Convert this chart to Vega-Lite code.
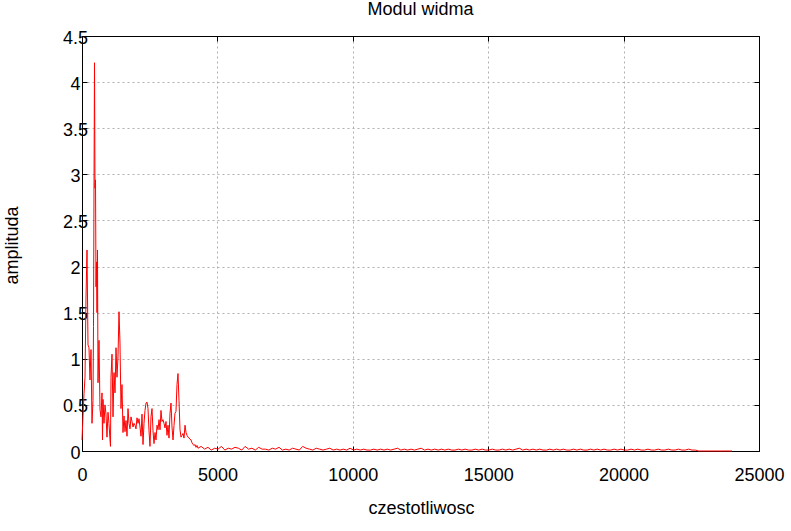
{
  "$schema": "https://vega.github.io/schema/vega-lite/v6.json",
  "width": 677,
  "height": 415,
  "autosize": "none",
  "padding": {"left": 82, "top": 36, "right": 32, "bottom": 80},
  "background": "white",
  "title": {"text": "Modul widma", "fontSize": 18, "font": "Liberation Sans", "fontWeight": "normal", "color": "black", "baseline": "alphabetic", "offset": -4, "anchor": "middle"},
  "config": {
    "view": {"stroke": "black", "strokeWidth": 1},
    "axis": {"labelFont": "Liberation Sans", "titleFont": "Liberation Sans", "labelColor": "black", "titleColor": "black", "titleFontWeight": "normal", "domainColor": "black", "domainWidth": 1, "tickColor": "black"}
  },
  "data": {"values": [
    {"f":0,"a":0.12},{"f":37,"a":0.38},{"f":74,"a":0.62},{"f":111,"a":0.8},{"f":148,"a":1.67},{"f":185,"a":2.18},{"f":222,"a":1.15},{"f":258,"a":1.12},{"f":295,"a":0.77},{"f":332,"a":1.1},{"f":369,"a":0.3},{"f":406,"a":0.55},{"f":425,"a":1.35},{"f":443,"a":2.83},{"f":462,"a":4.21},{"f":480,"a":2.85},{"f":499,"a":2.94},{"f":517,"a":1.78},{"f":535,"a":2.05},{"f":554,"a":1.5},{"f":572,"a":2.18},{"f":591,"a":0.74},{"f":628,"a":1.2},{"f":665,"a":0.45},{"f":702,"a":0.37},{"f":739,"a":0.63},{"f":757,"a":0.12},{"f":776,"a":0.56},{"f":812,"a":0.3},{"f":849,"a":0.5},{"f":886,"a":0.4},{"f":923,"a":0.15},{"f":960,"a":0.42},{"f":997,"a":0.3},{"f":1034,"a":0.12},{"f":1052,"a":0.05},{"f":1071,"a":0.8},{"f":1108,"a":1.05},{"f":1145,"a":0.37},{"f":1182,"a":0.85},{"f":1219,"a":0.63},{"f":1256,"a":1.12},{"f":1292,"a":0.8},{"f":1329,"a":1.02},{"f":1366,"a":1.51},{"f":1403,"a":1.17},{"f":1440,"a":0.46},{"f":1477,"a":0.72},{"f":1514,"a":0.2},{"f":1551,"a":0.38},{"f":1588,"a":0.21},{"f":1625,"a":0.33},{"f":1662,"a":0.16},{"f":1699,"a":0.46},{"f":1736,"a":0.3},{"f":1773,"a":0.24},{"f":1810,"a":0.37},{"f":1846,"a":0.32},{"f":1883,"a":0.26},{"f":1920,"a":0.3},{"f":1957,"a":0.28},{"f":1994,"a":0.24},{"f":2031,"a":0.36},{"f":2068,"a":0.3},{"f":2105,"a":0.35},{"f":2142,"a":0.26},{"f":2179,"a":0.16},{"f":2216,"a":0.4},{"f":2253,"a":0.07},{"f":2290,"a":0.3},{"f":2327,"a":0.44},{"f":2364,"a":0.52},{"f":2401,"a":0.53},{"f":2437,"a":0.46},{"f":2474,"a":0.22},{"f":2511,"a":0.05},{"f":2548,"a":0.37},{"f":2585,"a":0.46},{"f":2622,"a":0.22},{"f":2659,"a":0.08},{"f":2696,"a":0.2},{"f":2733,"a":0.12},{"f":2770,"a":0.28},{"f":2807,"a":0.23},{"f":2844,"a":0.34},{"f":2881,"a":0.23},{"f":2917,"a":0.44},{"f":2954,"a":0.32},{"f":2991,"a":0.34},{"f":3028,"a":0.3},{"f":3065,"a":0.25},{"f":3102,"a":0.32},{"f":3139,"a":0.17},{"f":3176,"a":0.28},{"f":3213,"a":0.14},{"f":3250,"a":0.41},{"f":3287,"a":0.52},{"f":3324,"a":0.26},{"f":3361,"a":0.12},{"f":3398,"a":0.28},{"f":3434,"a":0.41},{"f":3471,"a":0.43},{"f":3508,"a":0.72},{"f":3545,"a":0.84},{"f":3582,"a":0.55},{"f":3619,"a":0.23},{"f":3656,"a":0.15},{"f":3693,"a":0.17},{"f":3730,"a":0.19},{"f":3767,"a":0.14},{"f":3804,"a":0.28},{"f":3841,"a":0.2},{"f":3878,"a":0.17},{"f":3915,"a":0.15},{"f":3951,"a":0.14},{"f":3988,"a":0.13},{"f":4025,"a":0.12},{"f":4062,"a":0.09},{"f":4099,"a":0.07},{"f":4136,"a":0.06},{"f":4173,"a":0.07},{"f":4210,"a":0.04},{"f":4247,"a":0.06},{"f":4284,"a":0.03},
    {"f":4400,"a":0.05},{"f":4525,"a":0.02},{"f":4650,"a":0.04},{"f":4775,"a":0.01},{"f":4900,"a":0.03},{"f":5025,"a":0.02},{"f":5150,"a":0.05},{"f":5275,"a":0.01},{"f":5400,"a":0.03},{"f":5525,"a":0.02},{"f":5650,"a":0.04},{"f":5775,"a":0.03},{"f":5900,"a":0.01},{"f":6025,"a":0.05},{"f":6150,"a":0.02},{"f":6275,"a":0.03},{"f":6400,"a":0.01},{"f":6525,"a":0.04},{"f":6650,"a":0.02},{"f":6775,"a":0.02},{"f":6900,"a":0.01},{"f":7025,"a":0.03},{"f":7150,"a":0.02},{"f":7275,"a":0.04},{"f":7400,"a":0.01},{"f":7525,"a":0.02},{"f":7650,"a":0.01},{"f":7775,"a":0.03},{"f":7900,"a":0.02},{"f":8025,"a":0.01},{"f":8150,"a":0.05},{"f":8275,"a":0.03},{"f":8400,"a":0.02},{"f":8525,"a":0.01},{"f":8650,"a":0.03},{"f":8775,"a":0.02},{"f":8900,"a":0.01},{"f":9025,"a":0.02},{"f":9150,"a":0.03},{"f":9275,"a":0.01},{"f":9400,"a":0.02},{"f":9525,"a":0.01},{"f":9650,"a":0.02},{"f":9775,"a":0.01},{"f":9900,"a":0.03},{"f":10025,"a":0.01},{"f":10150,"a":0.02},{"f":10275,"a":0.01},{"f":10400,"a":0.02},{"f":10525,"a":0.01},{"f":10650,"a":0.01},{"f":10775,"a":0.02},{"f":10900,"a":0.01},{"f":11025,"a":0.02},{"f":11150,"a":0.01},{"f":11275,"a":0.02},{"f":11400,"a":0.01},{"f":11525,"a":0.02},{"f":11650,"a":0.03},{"f":11775,"a":0.01},{"f":11900,"a":0.02},{"f":12025,"a":0.01},{"f":12150,"a":0.02},{"f":12275,"a":0.01},{"f":12400,"a":0.02},{"f":12525,"a":0.03},{"f":12650,"a":0.01},{"f":12775,"a":0.02},{"f":12900,"a":0.01},{"f":13025,"a":0.02},{"f":13150,"a":0.01},{"f":13275,"a":0.02},{"f":13400,"a":0.01},{"f":13525,"a":0.02},{"f":13650,"a":0.01},{"f":13775,"a":0.01},{"f":13900,"a":0.02},{"f":14025,"a":0.01},{"f":14150,"a":0.02},{"f":14275,"a":0.01},{"f":14400,"a":0.01},{"f":14525,"a":0.02},{"f":14650,"a":0.01},{"f":14775,"a":0.02},{"f":14900,"a":0.01},{"f":15025,"a":0.01},{"f":15150,"a":0.02},{"f":15275,"a":0.01},{"f":15400,"a":0.01},{"f":15525,"a":0.02},{"f":15650,"a":0.01},{"f":15775,"a":0.02},{"f":15900,"a":0.01},{"f":16025,"a":0.02},{"f":16150,"a":0.03},{"f":16275,"a":0.01},{"f":16400,"a":0.02},{"f":16525,"a":0.01},{"f":16650,"a":0.02},{"f":16775,"a":0.01},{"f":16900,"a":0.02},{"f":17025,"a":0.01},{"f":17150,"a":0.01},{"f":17275,"a":0.02},{"f":17400,"a":0.01},{"f":17525,"a":0.02},{"f":17650,"a":0.01},{"f":17775,"a":0.02},{"f":17900,"a":0.01},{"f":18025,"a":0.01},{"f":18150,"a":0.02},{"f":18275,"a":0.01},{"f":18400,"a":0.02},{"f":18525,"a":0.01},{"f":18650,"a":0.01},{"f":18775,"a":0.02},{"f":18900,"a":0.01},{"f":19025,"a":0.02},{"f":19150,"a":0.01},{"f":19275,"a":0.02},{"f":19400,"a":0.01},{"f":19525,"a":0.01},{"f":19650,"a":0.02},{"f":19775,"a":0.01},{"f":19900,"a":0.02},{"f":20025,"a":0.01},{"f":20150,"a":0.01},{"f":20275,"a":0.02},{"f":20400,"a":0.01},{"f":20525,"a":0.02},{"f":20650,"a":0.01},{"f":20775,"a":0.01},{"f":20900,"a":0.02},{"f":21025,"a":0.01},{"f":21150,"a":0.01},{"f":21275,"a":0.02},{"f":21400,"a":0.01},{"f":21525,"a":0.01},{"f":21650,"a":0.02},{"f":21775,"a":0.01},{"f":21900,"a":0.01},{"f":22025,"a":0.02},{"f":22150,"a":0.01},{"f":22275,"a":0.01},{"f":22400,"a":0.02},{"f":22525,"a":0.01},{"f":22650,"a":0.01},{"f":22775,"a":0.0},{"f":24000,"a":0.0}
  ]},
  "layer": [
    {
      "mark": {"type": "line", "color": "#ff0000", "strokeWidth": 1, "interpolate": "linear"},
      "encoding": {
        "x": {"field": "f", "type": "quantitative",
          "scale": {"domain": [0, 25000], "nice": false, "zero": false},
          "axis": {"values": [0, 5000, 10000, 15000, 20000, 25000], "labelExpr": "'' + datum.value", "labelFontSize": 18, "labelAlign": "center", "labelBaseline": "middle", "tickSize": -5, "labelPadding": 29, "grid": true, "gridColor": "#b0b0b0", "gridDash": [2, 3], "gridWidth": 1, "domain": true, "title": "czestotliwosc", "titleFontSize": 18, "titleX": 339, "titleY": 57, "titleBaseline": "middle", "titleAlign": "center", "labelFlush": false, "labelOverlap": false}},
        "y": {"field": "a", "type": "quantitative",
          "scale": {"domain": [0, 4.5], "nice": false, "zero": false},
          "axis": {"values": [0, 0.5, 1, 1.5, 2, 2.5, 3, 3.5, 4, 4.5], "labelExpr": "'' + datum.value", "labelFontSize": 18, "labelAlign": "center", "labelBaseline": "middle", "labelOffset": 2, "tickSize": -5, "labelPadding": 12, "grid": true, "gridColor": "#b0b0b0", "gridDash": [2, 3], "gridWidth": 1, "domain": true, "title": "amplituda", "titleFontSize": 18, "titleAngle": -90, "titleX": -70, "titleY": 209, "titleBaseline": "middle", "titleAlign": "center", "labelFlush": false, "labelOverlap": false}}
      }
    },
    {
      "mark": {"type": "line", "opacity": 0},
      "encoding": {
        "x": {"field": "f", "type": "quantitative",
          "axis": {"orient": "top", "values": [0, 5000, 10000, 15000, 20000, 25000], "labels": false, "tickSize": -5, "grid": false, "domain": true, "title": null}},
        "y": {"field": "a", "type": "quantitative",
          "axis": {"orient": "right", "values": [0, 0.5, 1, 1.5, 2, 2.5, 3, 3.5, 4, 4.5], "labels": false, "tickSize": -5, "grid": false, "domain": true, "title": null}}
      }
    }
  ],
  "resolve": {"axis": {"x": "independent", "y": "independent"}}
}
